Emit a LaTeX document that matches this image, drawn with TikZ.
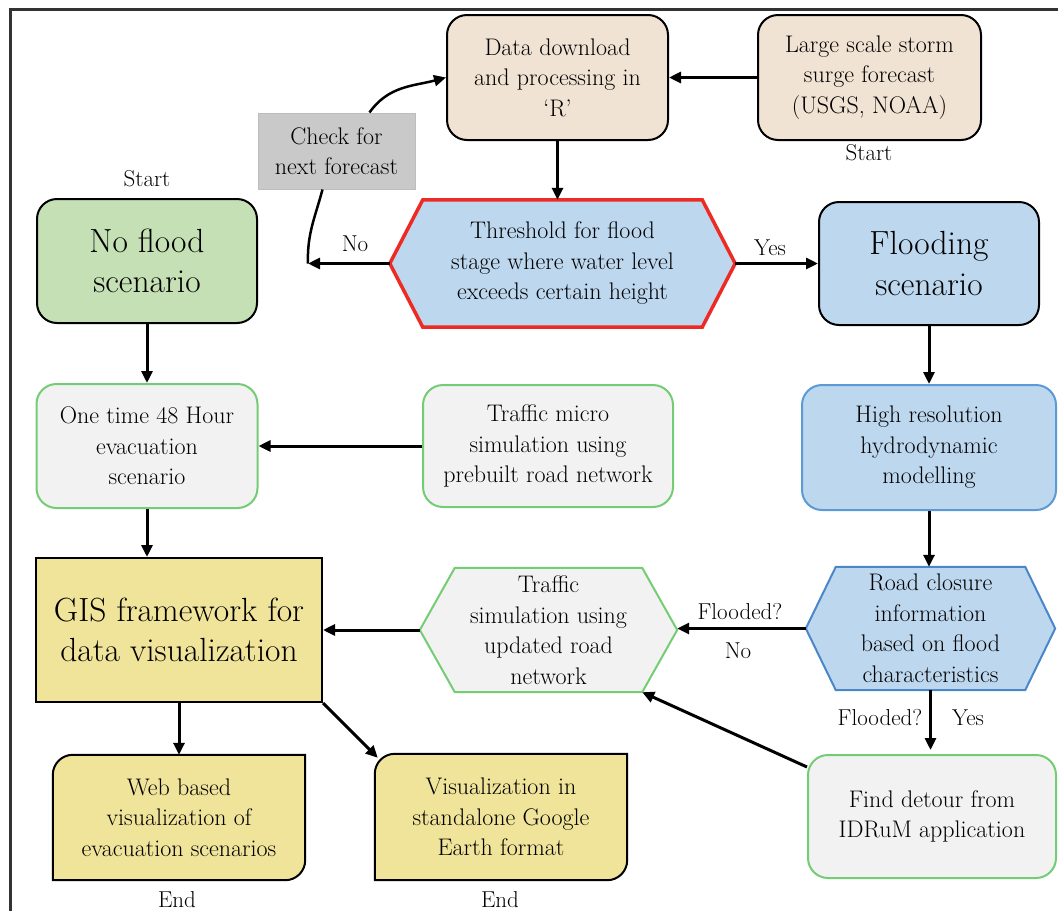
\documentclass[tikz,border=0pt]{standalone}
\usepackage{fontspec}
\usetikzlibrary{arrows.meta,calc}
\definecolor{beige}{HTML}{F1E3D3}
\definecolor{lblue}{HTML}{BDD7EE}
\definecolor{lgreen}{HTML}{C5E0B4}
\definecolor{lyellow}{HTML}{F0E39A}
\definecolor{lgray}{HTML}{F2F2F2}
\definecolor{chkgray}{HTML}{C9C9C9}
\definecolor{chkborder}{HTML}{BDBDBD}
\definecolor{gborder}{HTML}{74CC74}
\definecolor{bborder}{HTML}{5B9BD5}
\definecolor{hexblue}{HTML}{4A86C8}
\definecolor{hexred}{HTML}{EE2A24}
\definecolor{framec}{HTML}{333333}
\tikzset{
  txt/.style={align=center,inner sep=0pt,font=\fontsize{24}{30.5}\selectfont},
  bigtxt/.style={align=center,inner sep=0pt,font=\fontsize{33.5}{40.5}\selectfont},
  lbl/.style={inner sep=0pt,font=\fontsize{23}{26}\selectfont},
  rbox/.style={rounded corners=20pt,line width=2pt},
  arr/.style={line width=3pt,-{Triangle[length=12pt,width=11pt]}},
}
\begin{document}
\begin{tikzpicture}[x=1pt,y=1pt]
\useasboundingbox (0,0) rectangle (1058,-911);
% frame
\draw[framec,line width=3pt] (10,-911) -- (10,-9) -- (1058,-9);

% top nodes
\node[txt,rbox,draw=black,fill=beige,minimum width=221pt,minimum height=125pt] (data) at (557.5,-77.5) {Data download\\and processing in\\‘R’};
\node[txt,rbox,draw=black,fill=beige,minimum width=223pt,minimum height=125pt] (storm) at (869.5,-77.5) {Large scale storm\\surge forecast\\(USGS, NOAA)};
\node[lbl] (start2) at (869,-153) {Start};
\node[txt,draw=chkborder,line width=1pt,fill=chkgray,minimum width=157pt,minimum height=76pt] (check) at (336.5,-151) {Check for\\next forecast};

% threshold hexagon
\node[txt,minimum width=345pt,minimum height=127pt] (thr) at (562.5,-263.5) {};
\draw[hexred,line width=3.5pt,fill=lblue,line join=miter]
  (thr.west) -- ([xshift=33pt]thr.north west) -- ([xshift=-33pt]thr.north east) -- (thr.east)
  -- ([xshift=-33pt]thr.south east) -- ([xshift=33pt]thr.south west) -- cycle;
\node[txt] (thrtext) at (thr.center) {Threshold for flood\\stage where water level\\exceeds certain height};

% scenarios
\node[bigtxt,rbox,draw=black,fill=lgreen,minimum width=220pt,minimum height=124pt] (noflood) at (147,-261) {No flood\\scenario};
\node[lbl] (start1) at (147,-179) {Start};
\node[bigtxt,rbox,draw=black,fill=lblue,minimum width=220pt,minimum height=123pt] (flooding) at (929,-263.5) {Flooding\\scenario};

% middle row
\node[txt,rbox,draw=gborder,fill=lgray,minimum width=221pt,minimum height=124pt] (onetime) at (147,-446) {One time 48 Hour\\evacuation\\scenario};
\node[txt,rbox,draw=gborder,fill=lgray,minimum width=250pt,minimum height=122pt] (micro) at (548,-446) {Traffic micro\\simulation using\\prebuilt road network};
\node[txt,rbox,draw=bborder,fill=lblue,minimum width=254pt,minimum height=125pt] (hires) at (929,-447.5) {High resolution\\hydrodynamic\\modelling};

% road closure hexagon
\node[txt,minimum width=249pt,minimum height=123pt] (road) at (930.5,-628.5) {};
\draw[hexblue,line width=2pt,fill=lblue]
  (road.west) -- ([xshift=30pt]road.north west) -- ([xshift=-30pt]road.north east) -- (road.east)
  -- ([xshift=-30pt]road.south east) -- ([xshift=30pt]road.south west) -- cycle;
\node[txt] (roadtext) at (road.center) {Road closure\\information\\based on flood\\characteristics};

% traffic simulation hexagon
\node[txt,minimum width=257pt,minimum height=124pt] (tsim) at (548.5,-630) {};
\draw[gborder,line width=2pt,fill=lgray]
  (tsim.west) -- ([xshift=35pt]tsim.north west) -- ([xshift=-35pt]tsim.north east) -- (tsim.east)
  -- ([xshift=-35pt]tsim.south east) -- ([xshift=35pt]tsim.south west) -- cycle;
\node[txt] (tsimtext) at (tsim.center) {Traffic\\simulation using\\updated road\\network};

% GIS
\node[bigtxt,draw=black,line width=2pt,fill=lyellow,minimum width=286pt,minimum height=144pt] (gis) at (179,-630) {GIS framework for\\data visualization};

% detour
\node[txt,rbox,draw=gborder,fill=lgray,minimum width=248pt,minimum height=123pt] (detour) at (932,-816.5) {Find detour from\\IDRuM application};

% bottom outputs
\node[txt,minimum width=252pt,minimum height=125pt] (web) at (179,-817.5) {};
\draw[black,line width=2pt,fill=lyellow]
  (web.south west) -- ([yshift=-20pt]web.north west) arc[start angle=180,end angle=90,radius=20pt]
  -- (web.north east) -- ([yshift=20pt]web.south east) arc[start angle=0,end angle=-90,radius=20pt] -- cycle;
\node[txt] (webtext) at (web.center) {Web based\\visualization of\\evacuation scenarios};
\node[lbl] (end1) at (177,-900) {End};

\node[txt,minimum width=252pt,minimum height=126pt] (vis) at (501,-817) {};
\draw[black,line width=2pt,fill=lyellow]
  (vis.south west) -- ([yshift=-20pt]vis.north west) arc[start angle=180,end angle=90,radius=20pt]
  -- (vis.north east) -- ([yshift=20pt]vis.south east) arc[start angle=0,end angle=-90,radius=20pt] -- cycle;
\node[txt] (vistext) at (vis.center) {Visualization in\\standalone Google\\Earth format};
\node[lbl] (end2) at (500,-900) {End};

% labels
\node[lbl] (nolbl) at (355,-244) {No};
\node[lbl] (yeslbl) at (770,-248) {Yes};
\node[lbl] (fl1) at (740,-612) {Flooded?};
\node[lbl] (no2) at (738,-651) {No};
\node[lbl] (fl2) at (880,-718) {Flooded?};
\node[lbl] (yes2) at (968,-718) {Yes};

% connectors
\coordinate (noend) at (308,-263.5);
\draw[arr] (storm.west) -- (data.east);
\draw[arr] (data.south) -- (data.south |- thr.north);
\draw[arr] (thr.west) -- (noend);
\draw[line width=2.5pt] (noend) to[out=92,in=-105] ([xshift=-14pt]check.south);
\draw[line width=2.5pt,-{Triangle[length=12pt,width=11pt]}] ([xshift=33pt]check.north) to[out=55,in=195] (data.west);
\draw[arr] (thr.east) -- (flooding.west);
\draw[arr] (noflood.south) -- (onetime.north);
\draw[arr] (micro.west) -- (onetime.east);
\draw[arr] (flooding.south) -- (hires.north);
\draw[arr] (hires.south) -- (hires.south |- road.north);
\draw[arr] (road.west) -- (road.west -| tsim.east);
\draw[arr] (tsim.west) -- (gis.east);
\draw[arr] (road.south) -- ([yshift=4pt]road.south |- detour.north);
\draw[arr] ([yshift=-13pt]detour.north west) -- ([xshift=-35pt]tsim.south east);
\draw[arr] (onetime.south) -- (onetime.south |- gis.north);
\draw[arr] (gis.south) -- (web.north);
\draw[arr] (gis.south east) -- ([xshift=3pt,yshift=-4pt]vis.north west);
\end{tikzpicture}
\end{document}
